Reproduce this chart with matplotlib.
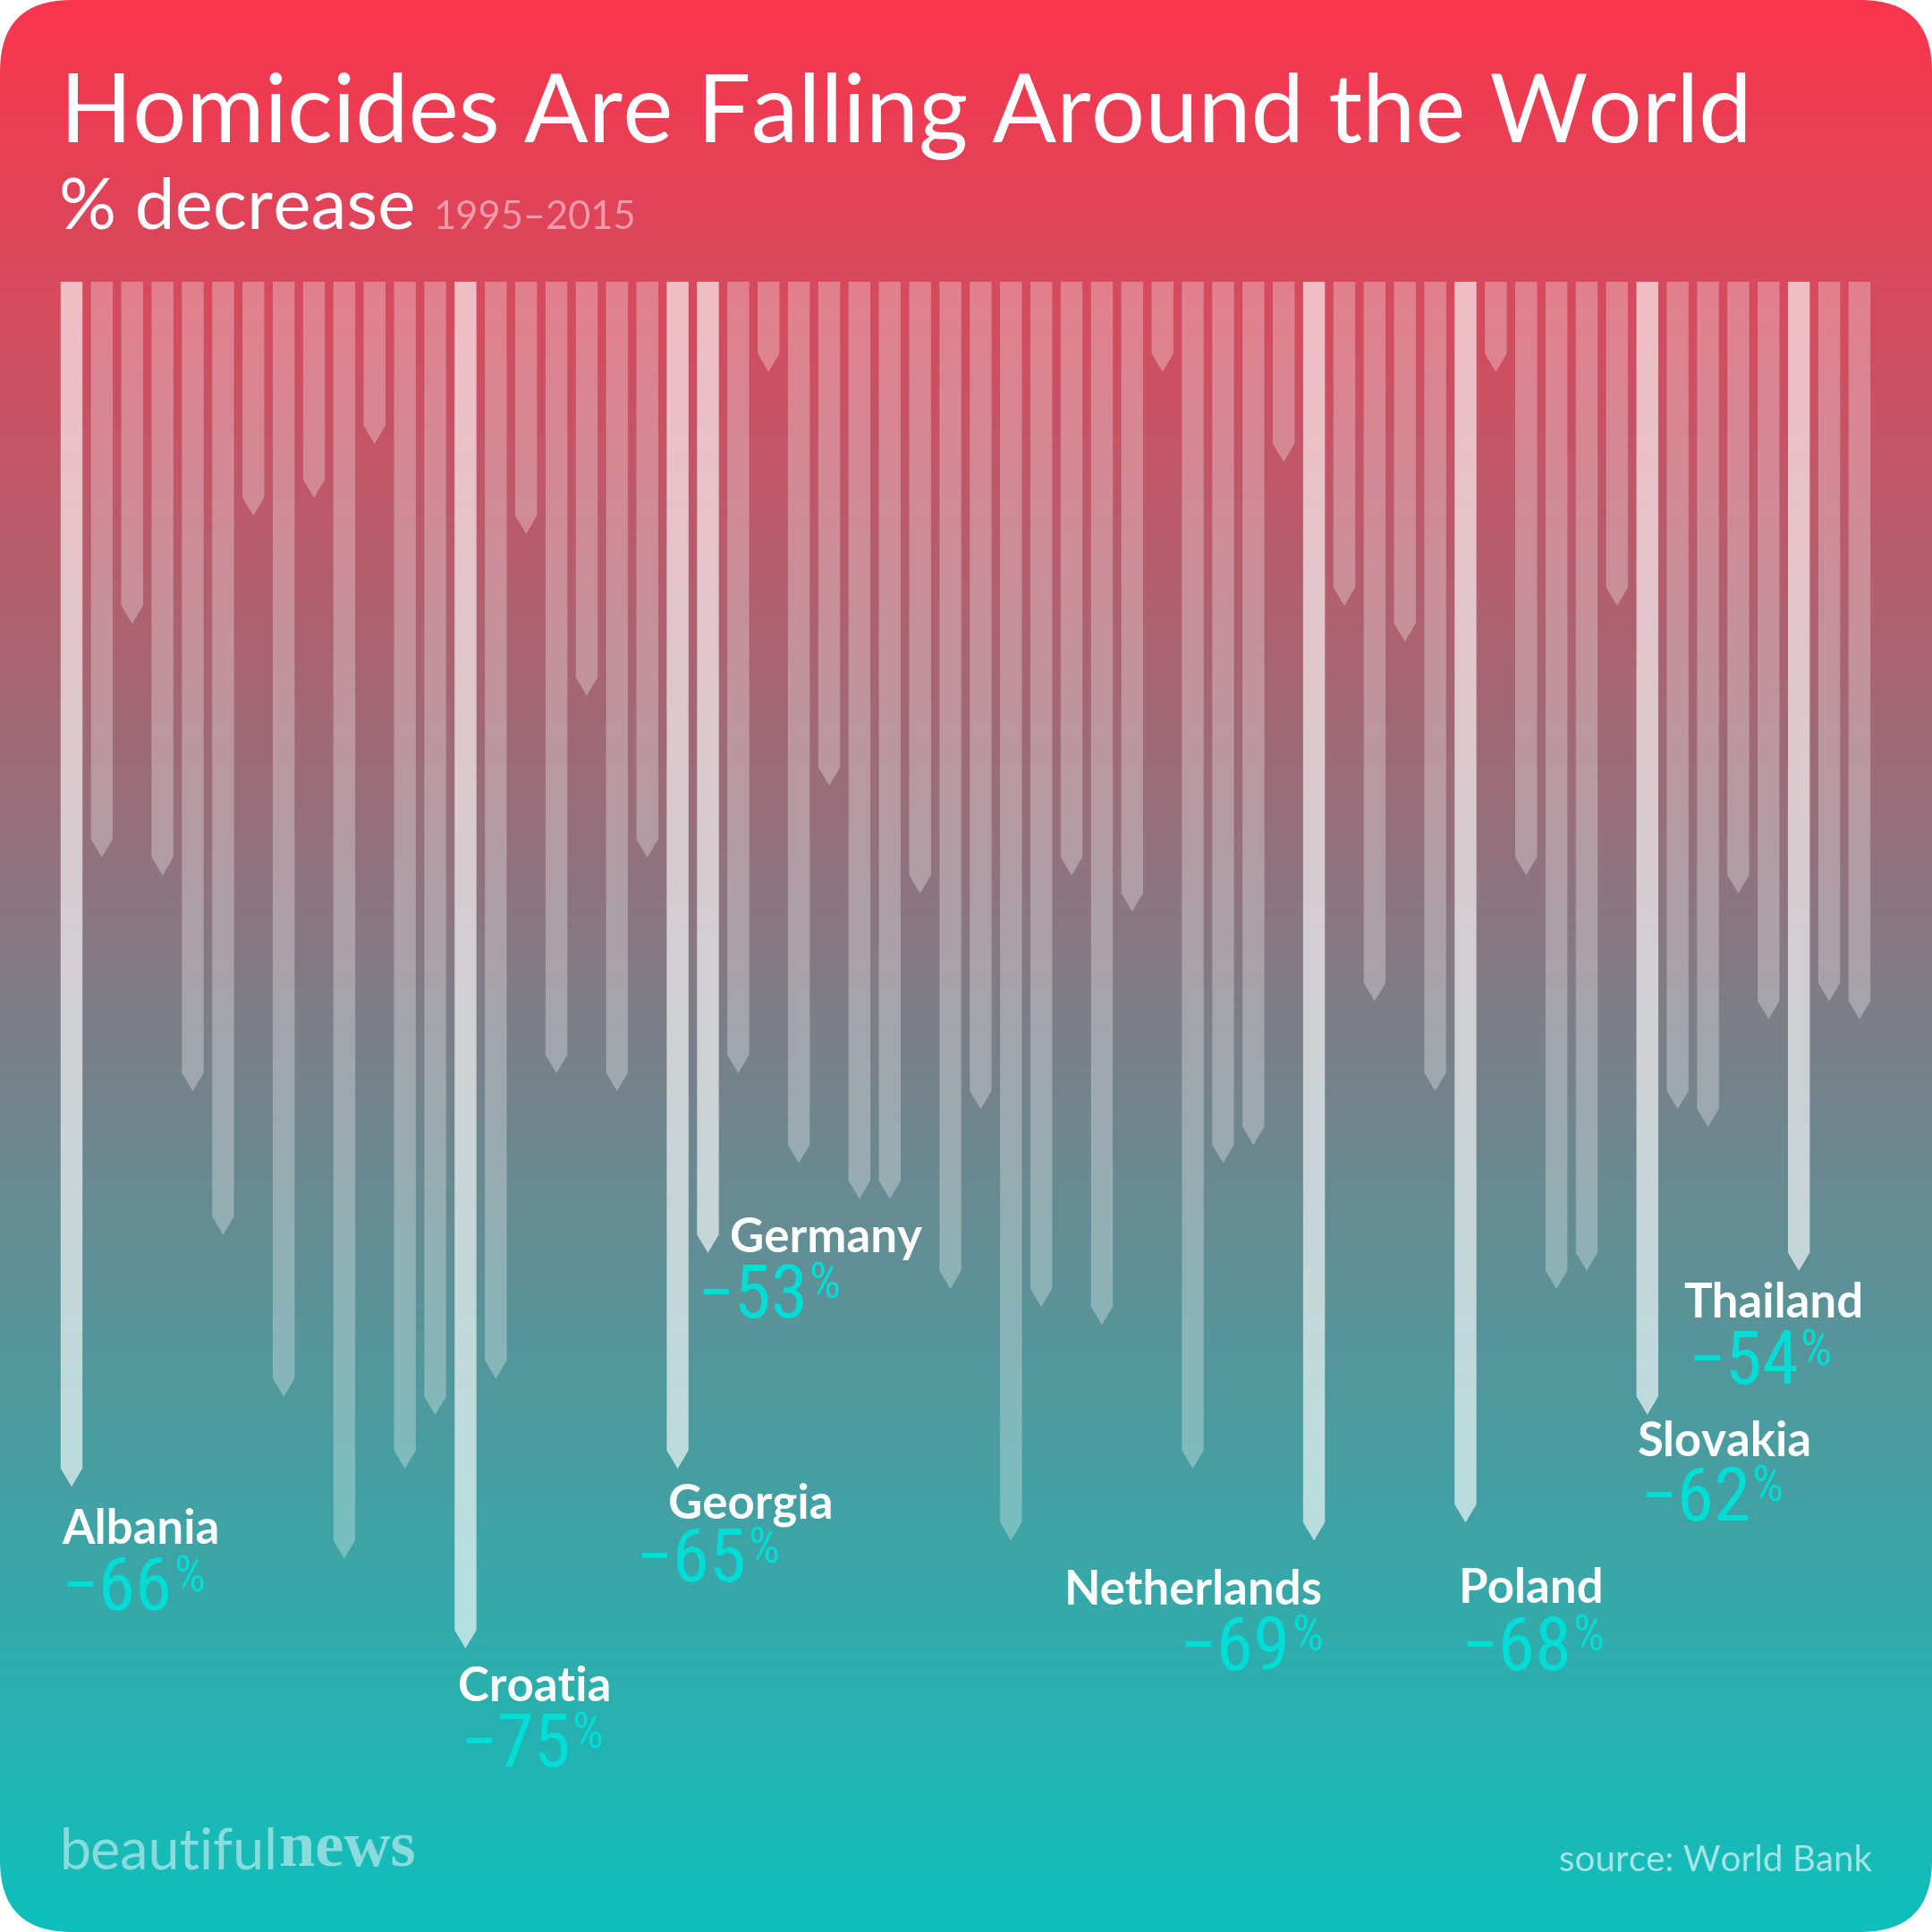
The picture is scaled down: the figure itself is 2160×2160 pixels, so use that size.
import numpy as np
import matplotlib
matplotlib.use("Agg")
import matplotlib.pyplot as plt
from matplotlib.patches import Polygon, FancyBboxPatch
from matplotlib import font_manager

# % decrease in homicides 1995-2015, one bar per country, left to right
decrease = [66, 31, 18, 32, 44, 52, 12, 61, 11, 70,
            8, 65, 62, 75, 60, 13, 43, 22, 44, 31,
            65, 53, 43, 4, 48, 27, 50, 50, 33, 55,
            45, 69, 56, 32, 57, 34, 4, 65, 48, 47,
            9, 69, 17, 39, 19, 44, 68, 4, 32, 55,
            54, 17, 62, 45, 46, 33, 40, 54, 39, 40]

# labelled countries and the bar they belong to
countries = ["Albania", "Croatia", "Georgia", "Germany",
             "Netherlands", "Poland", "Slovakia", "Thailand"]
country_bar = [0, 13, 20, 21, 41, 46, 52, 57]

title = "Homicides Are Falling Around the World"
subtitle = "% decrease"
years = "1995\u20132015"
source = "source: World Bank"

# label placement relative to bar (x in bars, y in %): name dx, name dy, pct dx, pct dy, align
label_pos = {
    "Albania": (-0.32, 4.2, -0.35, 7.9, "left"),
    "Croatia": (-0.25, 3.96, -0.19, 7.6, "left"),
    "Georgia": (-0.31, 3.76, -1.38, 7.3, "left"),
    "Germany": (0.72, 0.98, -0.37, 4.6, "left"),
    "Netherlands": (0.29, 4.57, 0.29, 8.2, "right"),
    "Poland": (-0.22, 5.5, -0.16, 9.2, "left"),
    "Slovakia": (-0.32, 3.3, -0.26, 6.9, "left"),
    "Thailand": (-3.81, 3.6, -3.66, 7.3, "left"),
}

have = {f.name for f in font_manager.fontManager.ttflist}


def pick(*names):
    for n in names:
        if n in have:
            return n
    return "DejaVu Sans"


main_font = pick("Lato", "Open Sans", "DejaVu Sans")
num_font = pick("Liberation Sans Narrow", "Roboto Condensed", "Liberation Sans")
serif_font = pick("Liberation Serif", "DejaVu Serif")

CYAN = "#00ddd6"
SIZE = 2160

fig = plt.figure(figsize=(21.6, 21.6), dpi=100)
fig.patch.set_facecolor("white")

# background card with vertical gradient and rounded corners
bg = fig.add_axes([0, 0, 1, 1])
bg.axis("off")
t = np.linspace(0, 1, 512)[:, None, None]
top_c = np.array([250, 53, 77]) / 255
bot_c = np.array([14, 192, 188]) / 255
img = top_c * (1 - t) + bot_c * t
card = FancyBboxPatch((0, 0), SIZE, SIZE, boxstyle="round,pad=0,rounding_size=80",
                      facecolor="none", edgecolor="none")
bg.add_patch(card)
im = bg.imshow(img, extent=(0, SIZE, SIZE, 0), aspect="auto", interpolation="bilinear")
im.set_clip_path(card)
bg.set_xlim(0, SIZE)
bg.set_ylim(SIZE, 0)

# data axes: x = bar index, y = % decrease (downwards)
x0, step = 80, 33.88
top, unit = 315, 20.1
ax = fig.add_axes([0, 0, 1, 1])
ax.axis("off")
ax.set_xlim(-x0 / step, (SIZE - x0) / step)
ax.set_ylim((SIZE - top) / unit, -top / unit)

half = 0.36
tip = 1.02
for i, v in enumerate(decrease):
    alpha = 0.64 if i in country_bar else 0.30
    verts = [(i - half, 0), (i + half, 0), (i + half, v), (i, v + tip), (i - half, v)]
    ax.add_patch(Polygon(verts, closed=True, facecolor="white", alpha=alpha,
                         edgecolor="none"))

renderer = fig.canvas.get_renderer()


def fit(txt, width):
    w = txt.get_window_extent(renderer).width
    txt.set_fontsize(txt.get_fontsize() * width / w)


# titles
tt = bg.text(67, 159, title, color="white", fontsize=84, family=main_font,
             ha="left", va="baseline")
fit(tt, 1893)
st = bg.text(66, 256, subtitle, color="white", fontsize=52, family=main_font,
             ha="left", va="baseline")
fit(st, 398)
yt = bg.text(485, 256, years, color="#f09aab", fontsize=40, family=main_font,
             ha="left", va="baseline")
fit(yt, 227)

# country labels
for name, bi in zip(countries, country_bar):
    v = decrease[bi]
    ndx, ndy, pdx, pdy, ha = label_pos[name]
    ax.text(bi + ndx, v + ndy, name, color="white", fontsize=38, fontweight="bold",
            family=main_font, ha=ha, va="baseline")
    num = ax.text(bi + pdx, v + pdy, "\u2212" + str(v), color=CYAN, fontsize=60,
                  family=num_font, ha="left", va="baseline")
    sign = ax.annotate("%", xy=(1, 1), xycoords=num, xytext=(1, 0),
                       textcoords="offset points", color=CYAN, fontsize=40,
                       family=num_font, ha="left", va="top")
    if ha == "right":
        b1 = num.get_window_extent(renderer)
        b2 = sign.get_window_extent(renderer)
        px = ax.transData.transform((bi + pdx, 0))[0] - (b2.x1 - b1.x0)
        num.set_x(ax.transData.inverted().transform((px, 0))[0])

# footer
logo = bg.text(67, 2090, "beautiful", color="#8adcdc", fontsize=45, family=main_font,
               ha="left", va="baseline")
fit(logo, 245)
bg.annotate("news", xy=(1, 0), xycoords=logo, xytext=(1, 0), textcoords="offset points",
            color="#8adcdc", fontsize=52, fontweight="bold", family=serif_font,
            ha="left", va="bottom")
src = bg.text(2093, 2092, source, color="#a4e4e4", fontsize=28.5, family=main_font,
              ha="right", va="baseline")
fit(src, 350)

fig.savefig("out.png", dpi=100, facecolor="white")
